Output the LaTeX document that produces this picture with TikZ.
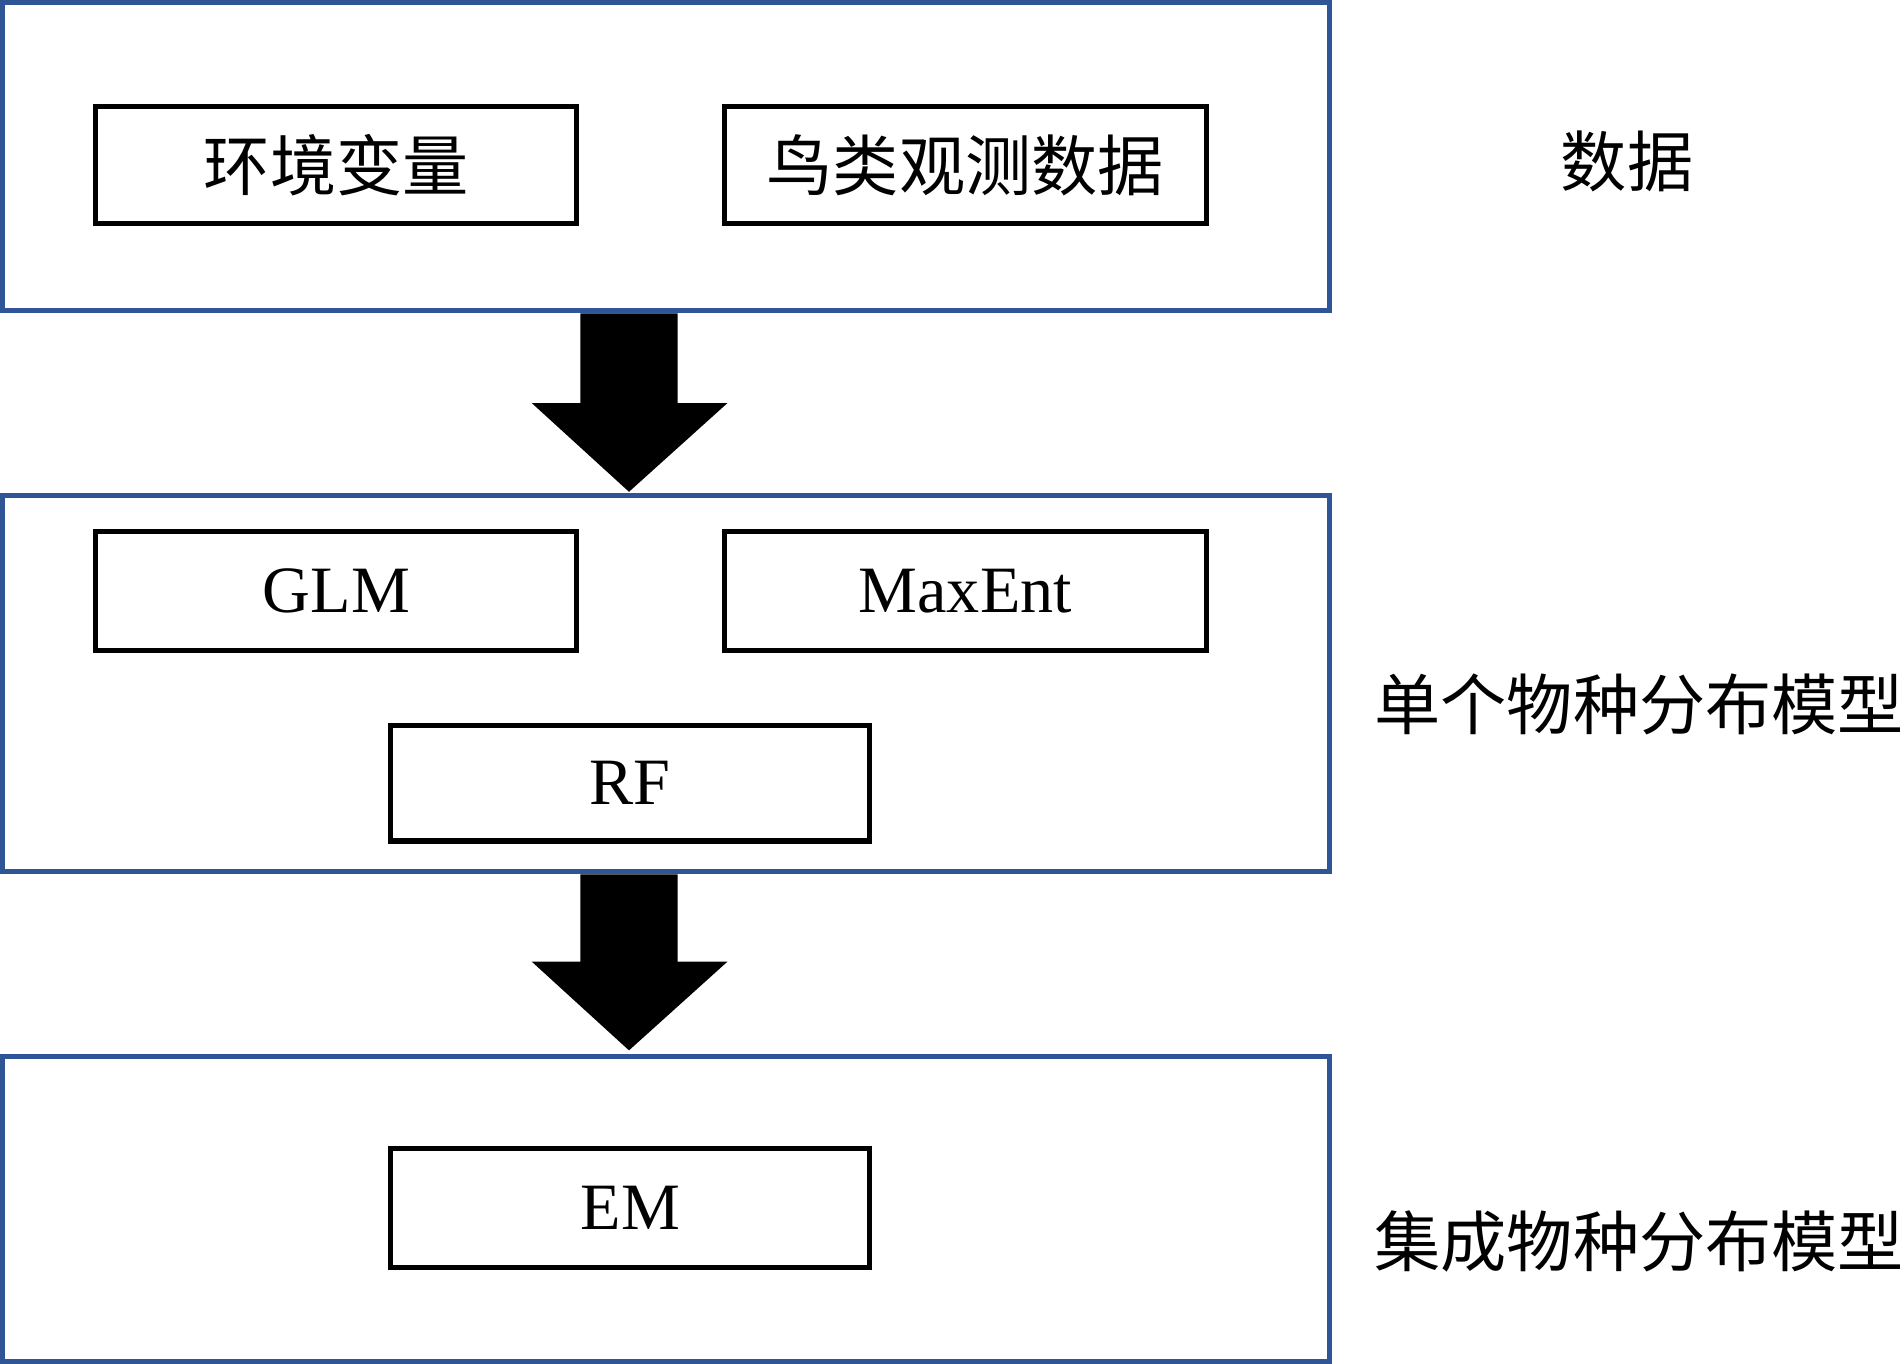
\documentclass[tikz,border=0pt]{standalone}
\usepackage{fontspec}
\setmainfont{Liberation Serif}
\newfontfamily\cjk{Noto Sans CJK SC}
\usetikzlibrary{positioning}
\definecolor{frameblue}{HTML}{2F5597}

\begin{document}
\begin{tikzpicture}[
  x=0.01cm, y=-0.01cm,
  every node/.style={font=\fontsize{15.5}{18}\selectfont},
  frame/.style={draw=frameblue, line width=1.2pt},
  item/.style={draw, line width=1.2pt, inner sep=0pt},
  side/.style={font=\fontsize{15.5}{18}\selectfont\cjk},
  bigarrow/.style={fill=black},
]
  \useasboundingbox (0,0) rectangle (1568,1123);

  % data layer
  \draw[frame] (2,2) rectangle (1095,256);
  \node[item, minimum width=3.96cm, minimum height=0.96cm] (env) at (277,136) {\cjk 环境变量};
  \node[item, minimum width=3.97cm, minimum height=0.96cm] (bird) at (795,136) {\cjk 鸟类观测数据};
  \node[side] (data) at (1340,133) {数据};

  % single models
  \draw[frame] (2,408) rectangle (1095,718);
  \node[item, minimum width=3.96cm, minimum height=0.98cm] (glm) at (277,487) {GLM};
  \node[item, minimum width=3.97cm, minimum height=0.98cm] (maxent) at (795,487) {MaxEnt};
  \node[item, minimum width=3.94cm, minimum height=0.95cm] (rf) at (519,645) {RF};
  \node[side] (single) at (1350,580) {单个物种分布模型};

  % ensemble
  \draw[frame] (2,870) rectangle (1095,1121);
  \node[item, minimum width=3.94cm, minimum height=0.98cm] (em) at (519,995) {EM};
  \node[side] (ens) at (1350,1022) {集成物种分布模型};

  % arrows
  \fill[bigarrow] (478,258) -- (558,258) -- (558,332) -- (599,332) -- (518,405)
    -- (438,332) -- (478,332) -- cycle;
  \fill[bigarrow] (478,720) -- (558,720) -- (558,792) -- (599,792) -- (518,865)
    -- (438,792) -- (478,792) -- cycle;
\end{tikzpicture}
\end{document}
